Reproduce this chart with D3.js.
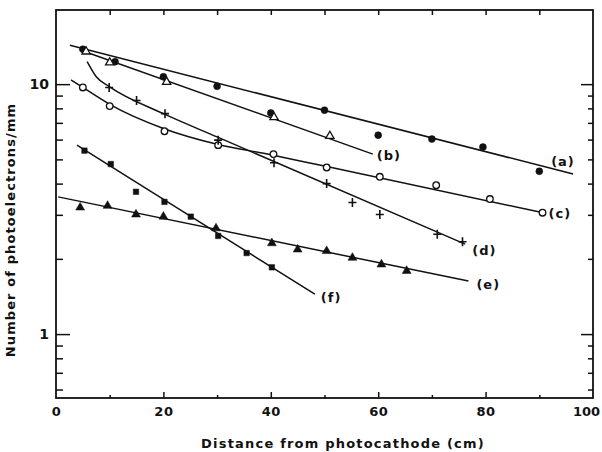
<!DOCTYPE html>
<html>
<head>
<meta charset="utf-8">
<script src="https://cdn.jsdelivr.net/npm/d3@7"></script>
<style>
  body { margin: 0; background: #fff; }
  text { font-family: "DejaVu Sans", sans-serif; font-weight: bold; fill: #111; }
</style>
</head>
<body>
<div id="target"></div>
<script>
// measured points (distance cm, photoelectrons/mm)
var aX = [5, 11, 20, 30, 40, 50, 60, 70, 79.5, 90];
var aY = [13.8, 12.3, 10.7, 9.8, 7.67, 7.87, 6.25, 6.03, 5.6, 4.48];
var bX = [5.6, 10, 20.6, 40.6, 51];
var bY = [13.5, 12.2, 10.2, 7.37, 6.2];
var cX = [5, 10, 20.2, 30.2, 40.5, 50.4, 60.3, 70.8, 80.8, 90.6];
var cY = [9.7, 8.17, 6.48, 5.7, 5.25, 4.64, 4.26, 3.94, 3.47, 3.06];
var dX = [9.9, 15, 20.3, 30.2, 40.6, 50.4, 55.2, 60.3, 71, 75.7];
var dY = [9.69, 8.6, 7.62, 5.97, 4.85, 4.0, 3.36, 3.01, 2.51, 2.34];
var eX = [4.5, 9.6, 14.9, 20, 29.8, 40.2, 45, 50.4, 55.2, 60.6, 65.3];
var eY = [3.21, 3.26, 3.01, 2.95, 2.65, 2.31, 2.18, 2.15, 2.02, 1.9, 1.79];
var fX = [5.3, 10.2, 14.9, 20.2, 25.1, 30.2, 35.5, 40.2];
var fY = [5.42, 4.79, 3.71, 3.38, 2.95, 2.47, 2.11, 1.85];

// drawn fit curves
var fitA = [[2.6, 14.3], [96.3, 4.37]];
var fitB = [[4.5, 13.7], [59, 5.25]];
var fitC = [[2.8, 10.4], [5, 9.7], [10, 8.3], [20, 6.65], [30, 5.75], [40, 5.22], [50, 4.7], [90.6, 3.06]];
var fitD = [[5.8, 12.3], [7.5, 10.7], [10, 9.75], [20, 7.62], [30, 6.15], [76.2, 2.29]];
var fitE = [[0.4, 3.54], [76.8, 1.63]];
var fitF = [[3.9, 5.7], [48.2, 1.445]];

var seriesNames = ["(a)", "(b)", "(c)", "(d)", "(e)", "(f)"];
var xLabels = [0, 20, 40, 60, 80, 100];
var xMinor = [10, 30, 50, 70, 90];
var yMajor = [1, 10];
var yMinor = [0.6, 0.7, 0.8, 0.9, 2, 3, 4, 5, 6, 7, 8, 9];

var W = 602, H = 452;
var L = 56, R = 593, T = 10, B = 398;

var svg = d3.select("#target").append("svg").attr("width", W).attr("height", H);

var x = d3.scaleLinear().domain([0, 100]).range([L, R]);
var y = d3.scaleLog().domain([0.555, 19.8]).range([B, T]);

var noLabel = function() { return ""; };
var tickStyle = function(sel) {
  sel.select(".domain").remove();
  sel.selectAll("line").attr("stroke", "#111").attr("stroke-width", 1.5);
};

// left ticks (inward) + labels
svg.append("g").attr("transform", "translate(" + L + ",0)")
  .call(d3.axisRight(y).tickValues(yMajor).tickSize(14).tickFormat(noLabel)).call(tickStyle);
svg.append("g").attr("transform", "translate(" + L + ",0)")
  .call(d3.axisRight(y).tickValues(yMinor).tickSize(7).tickFormat(noLabel)).call(tickStyle);
svg.append("g").attr("transform", "translate(" + L + ",0)")
  .call(d3.axisLeft(y).tickValues(yMajor).tickSize(0).tickPadding(7).tickFormat(d3.format("d")))
  .call(function(g) {
    g.select(".domain").remove();
    g.selectAll("text").style("font-size", "14px").attr("fill", "#111");
  });

// right ticks
svg.append("g").attr("transform", "translate(" + R + ",0)")
  .call(d3.axisLeft(y).tickValues(yMajor).tickSize(12).tickFormat(noLabel)).call(tickStyle);
svg.append("g").attr("transform", "translate(" + R + ",0)")
  .call(d3.axisLeft(y).tickValues(yMinor).tickSize(5).tickFormat(noLabel)).call(tickStyle);

// bottom ticks + labels
svg.append("g").attr("transform", "translate(0," + B + ")")
  .call(d3.axisTop(x).tickValues([20, 40, 60, 80]).tickSize(6).tickFormat(noLabel)).call(tickStyle);
svg.append("g").attr("transform", "translate(0," + B + ")")
  .call(d3.axisTop(x).tickValues(xMinor).tickSize(3).tickFormat(noLabel)).call(tickStyle);
svg.append("g").attr("transform", "translate(0," + B + ")")
  .call(d3.axisBottom(x).tickValues(xLabels).tickSize(0).tickPadding(9).tickFormat(d3.format("d")))
  .call(function(g) {
    g.select(".domain").remove();
    g.selectAll("text").style("font-size", "13px").style("letter-spacing", "0.5px").attr("fill", "#111");
    // last label sits against the page edge
    g.selectAll("text").filter(function(d) { return d === 100; })
      .style("letter-spacing", "0px").attr("dx", -7);
  });

// top ticks
svg.append("g").attr("transform", "translate(0," + T + ")")
  .call(d3.axisBottom(x).tickValues([10, 20, 30, 40, 50, 60, 70, 80, 90]).tickSize(5).tickFormat(noLabel)).call(tickStyle);

// frame
svg.append("rect")
  .attr("x", L).attr("y", T).attr("width", R - L).attr("height", B - T)
  .attr("fill", "none").attr("stroke", "#111").attr("stroke-width", 1.8);

// axis titles
svg.append("text")
  .attr("transform", "translate(" + 15 + "," + 230 + ") rotate(-90)")
  .attr("text-anchor", "middle")
  .style("font-size", "13px").style("letter-spacing", "1.1px")
  .text("Number of photoelectrons/mm");
svg.append("text")
  .attr("x", 343).attr("y", 448)
  .attr("text-anchor", "middle")
  .style("font-size", "13px").style("letter-spacing", "1.2px")
  .text("Distance from photocathode (cm)");

// fit lines
var line = d3.line()
  .x(function(p) { return x(p[0]); })
  .y(function(p) { return y(p[1]); })
  .curve(d3.curveMonotoneX);

var fits = [fitA, fitB, fitC, fitD, fitE, fitF];
fits.forEach(function(f) {
  svg.append("path")
    .attr("d", line(f))
    .attr("fill", "none")
    .attr("stroke", "#111")
    .attr("stroke-width", 1.5);
});

// markers
var zip = function(xs, ys) {
  return xs.map(function(v, i) { return [v, ys[i]]; });
};
var pos = function(p) { return "translate(" + x(p[0]) + "," + y(p[1]) + ")"; };

var drawSymbol = function(data, type, size, filled) {
  svg.append("g").selectAll("path")
    .data(data)
    .enter()
    .append("path")
    .attr("transform", pos)
    .attr("d", d3.symbol().type(type).size(size))
    .attr("fill", filled ? "#111" : "#fff")
    .attr("stroke", "#111")
    .attr("stroke-width", filled ? 0.5 : 1.3);
};

drawSymbol(zip(aX, aY), d3.symbolCircle, 38, true);
drawSymbol(zip(bX, bY), d3.symbolTriangle, 30, false);
drawSymbol(zip(cX, cY), d3.symbolCircle, 34, false);
drawSymbol(zip(eX, eY), d3.symbolTriangle, 34, true);
drawSymbol(zip(fX, fY), d3.symbolSquare, 30, true);

svg.append("g").selectAll("path")
  .data(zip(dX, dY))
  .enter()
  .append("path")
  .attr("transform", pos)
  .attr("d", "M-4,0H4M0,-4.5V4.5")
  .attr("stroke", "#111")
  .attr("stroke-width", 1.6);

// curve labels, placed off the end of each fit
var labelAnchor = [fitA[1], fitB[1], [cX[9], cY[9]], fitD[fitD.length - 1], fitE[1], fitF[1]];
var labelShift = [[-22, -8], [4, 6], [6, 5], [7, 11], [8, 8], [6, 8]];
svg.append("g").selectAll("text")
  .data(seriesNames)
  .enter()
  .append("text")
  .attr("x", function(d, i) { return x(labelAnchor[i][0]) + labelShift[i][0]; })
  .attr("y", function(d, i) { return y(labelAnchor[i][1]) + labelShift[i][1]; })
  .style("font-size", "13px")
  .style("letter-spacing", "1px")
  .text(function(d) { return d; });
</script>
</body>
</html>
